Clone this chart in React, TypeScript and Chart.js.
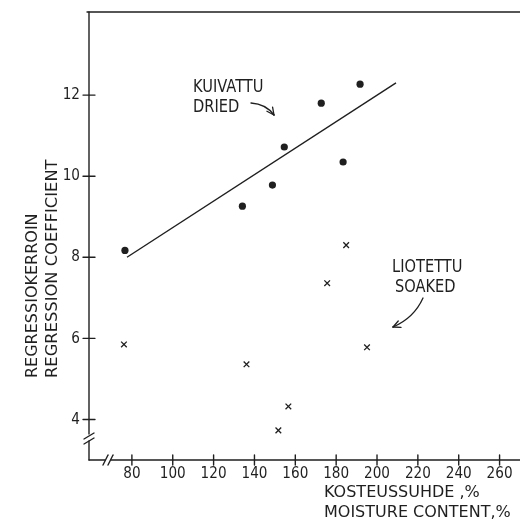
import React, { useEffect, useRef } from "react";
import { Chart, registerables } from "chart.js";

Chart.register(...registerables);

// Dried (KUIVATTU) samples: moisture content % vs regression coefficient
const driedX = [76.6, 134.1, 148.8, 154.6, 172.7, 183.4, 191.7];
const driedY = [8.17, 9.26, 9.78, 10.72, 11.8, 10.35, 12.27];
// Soaked (LIOTETTU) samples
const soakedX = [76.1, 136.1, 151.7, 156.6, 175.6, 184.9, 195.1];
const soakedY = [5.85, 5.36, 3.73, 4.32, 7.36, 8.3, 5.78];
// Regression line for dried samples
const fitX = [77.6, 209.3];
const fitY = [8.0, 12.3];
// Tick labels
const xTicks = [80, 100, 120, 140, 160, 180, 200, 220, 240, 260];
const yTicks = [4, 6, 8, 10, 12];
const yTitle = ["REGRESSIOKERROIN", "REGRESSION COEFFICIENT"];
const xTitle = ["KOSTEUSSUHDE ,%", "MOISTURE CONTENT,%"];
const driedLabel = ["KUIVATTU", "DRIED"];
const soakedLabel = ["LIOTETTU", "SOAKED"];

const INK = "#1f1f1f";
const FONT = '"DejaVu Sans", sans-serif';

function txt(
  ctx: CanvasRenderingContext2D,
  s: string,
  x: number,
  y: number,
  size: number,
  sx: number,
  align: CanvasTextAlign,
  rot = 0
) {
  ctx.save();
  ctx.translate(x, y);
  if (rot) ctx.rotate(rot);
  ctx.scale(sx, 1);
  ctx.font = `${size}px ${FONT}`;
  ctx.textAlign = align;
  ctx.textBaseline = "middle";
  ctx.fillStyle = INK;
  ctx.fillText(s, 0, 0);
  ctx.restore();
}

function line(ctx: CanvasRenderingContext2D, x1: number, y1: number, x2: number, y2: number) {
  ctx.beginPath();
  ctx.moveTo(x1, y1);
  ctx.lineTo(x2, y2);
  ctx.stroke();
}

function curvedArrow(
  ctx: CanvasRenderingContext2D,
  x0: number,
  y0: number,
  cx: number,
  cy: number,
  x1: number,
  y1: number
) {
  ctx.beginPath();
  ctx.moveTo(x0, y0);
  ctx.quadraticCurveTo(cx, cy, x1, y1);
  ctx.stroke();
  const a = Math.atan2(y1 - cy, x1 - cx);
  const L = 8;
  line(ctx, x1, y1, x1 - L * Math.cos(a - 0.45), y1 - L * Math.sin(a - 0.45));
  line(ctx, x1, y1, x1 - L * Math.cos(a + 0.45), y1 - L * Math.sin(a + 0.45));
}

const framePlugin = {
  id: "frame",
  afterDraw(chart: any) {
    const ctx: CanvasRenderingContext2D = chart.ctx;
    const { left, right, top, bottom } = chart.chartArea;
    const xs = chart.scales.x;
    const ys = chart.scales.y;
    ctx.save();
    ctx.strokeStyle = INK;
    ctx.lineWidth = 1.4;
    ctx.lineCap = "round";
    // top frame
    line(ctx, left - 2, top, right, top);
    // y axis with break
    line(ctx, left, top, left, bottom - 26);
    line(ctx, left - 5, bottom - 21, left + 5, bottom - 27);
    line(ctx, left - 5, bottom - 16, left + 5, bottom - 22);
    line(ctx, left, bottom - 19, left, bottom);
    // x axis with break
    line(ctx, left, bottom, left + 16, bottom);
    line(ctx, left + 14, bottom + 5, left + 19, bottom - 5);
    line(ctx, left + 19, bottom + 5, left + 24, bottom - 5);
    line(ctx, left + 22, bottom, right, bottom);
    // y ticks
    yTicks.forEach((v) => {
      const py = ys.getPixelForValue(v);
      line(ctx, left - 6, py, left + 6, py);
      txt(ctx, String(v), left - 9, py, 16, 0.85, "right");
    });
    // x ticks
    xTicks.forEach((v) => {
      const px = xs.getPixelForValue(v);
      line(ctx, px, bottom - 5, px, bottom + 5);
      txt(ctx, String(v), px, bottom + 14, 16, 0.85, "center");
    });
    // axis titles
    txt(ctx, yTitle[0], 33, 378, 16, 1, "left", -Math.PI / 2);
    txt(ctx, yTitle[1], 53, 378, 16, 1.02, "left", -Math.PI / 2);
    txt(ctx, xTitle[0], 324, 493, 16, 1, "left");
    txt(ctx, xTitle[1], 324, 513, 16, 1, "left");
    // annotations
    txt(ctx, driedLabel[0], 193, 88, 17, 0.86, "left");
    txt(ctx, driedLabel[1], 193, 108, 17, 0.86, "left");
    txt(ctx, soakedLabel[0], 392, 268, 17, 0.86, "left");
    txt(ctx, soakedLabel[1], 395, 288, 17, 0.86, "left");
    ctx.lineWidth = 1.3;
    curvedArrow(ctx, 251, 103, 266, 104, 274, 115);
    curvedArrow(ctx, 423, 298, 414, 318, 393, 327);
    ctx.restore();
  },
};

export default function App() {
  const ref = useRef<HTMLCanvasElement | null>(null);
  useEffect(() => {
    document.body.style.margin = "0";
    document.body.style.background = "#ffffff";
    const canvas = ref.current!;
    const chart = new Chart(canvas, {
      type: "scatter",
      data: {
        datasets: [
          {
            label: "fit",
            data: fitX.map((x, i) => ({ x, y: fitY[i] })),
            showLine: true,
            pointRadius: 0,
            borderColor: INK,
            borderWidth: 1.4,
          },
          {
            label: "dried",
            data: driedX.map((x, i) => ({ x, y: driedY[i] })),
            pointStyle: "circle",
            pointRadius: 3.6,
            backgroundColor: INK,
            borderColor: INK,
            borderWidth: 0,
          },
          {
            label: "soaked",
            data: soakedX.map((x, i) => ({ x, y: soakedY[i] })),
            pointStyle: "crossRot",
            pointRadius: 4,
            backgroundColor: INK,
            borderColor: INK,
            borderWidth: 1.3,
          },
        ],
      },
      options: {
        responsive: false,
        animation: false,
        layout: { autoPadding: false, padding: { left: 89, right: 0, top: 12, bottom: 62 } },
        plugins: { legend: { display: false }, tooltip: { enabled: false } },
        scales: {
          x: { type: "linear", min: 59, max: 270, display: false },
          y: { type: "linear", min: 3, max: 14.05, display: false },
        },
      },
      plugins: [framePlugin],
    });
    return () => chart.destroy();
  }, []);
  return (
    <div style={{ width: 520, height: 522, background: "#fff" }}>
      <canvas ref={ref} width={520} height={522} style={{ display: "block" }} />
    </div>
  );
}
